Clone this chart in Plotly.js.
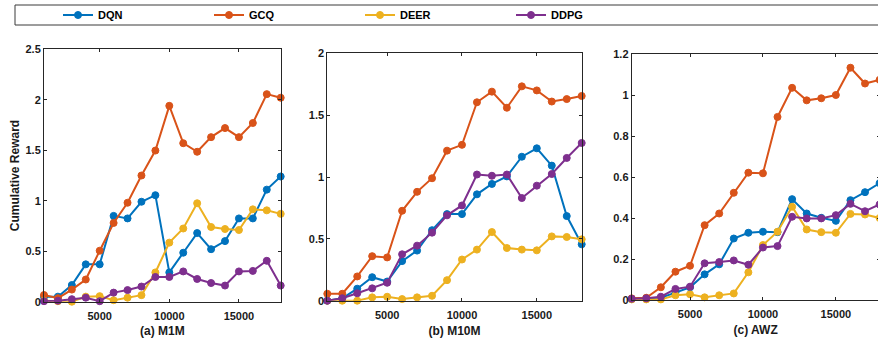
<!DOCTYPE html>
<html>
<head>
<meta charset="utf-8">
<script src="https://cdn.plot.ly/plotly-3.0.1.min.js"></script>
<style>
html, body { margin: 0; padding: 0; overflow: hidden; background: #fff; }
#chart { width: 900px; height: 338px; }
</style>
</head>
<body>
<div id="chart"></div>
<script>
// ---- data ----
var steps = [1000,2000,3000,4000,5000,6000,7000,8000,9000,10000,11000,12000,13000,14000,15000,16000,17000,18000];
var seriesNames = ['DQN', 'GCQ', 'DEER', 'DDPG'];

// (a) M1M
var m1m_DQN  = [0.05,0.05,0.165,0.37,0.37,0.85,0.825,0.99,1.055,0.29,0.485,0.68,0.52,0.60,0.825,0.825,1.11,1.24];
var m1m_GCQ  = [0.066,0.035,0.12,0.22,0.505,0.78,0.98,1.25,1.497,1.94,1.57,1.485,1.63,1.72,1.63,1.77,2.056,2.02];
var m1m_DEER = [0.01,0.005,0.0,0.05,0.055,0.015,0.04,0.065,0.29,0.585,0.725,0.975,0.74,0.72,0.71,0.915,0.905,0.87];
var m1m_DDPG = [0.005,0.01,0.025,0.04,0.005,0.09,0.115,0.15,0.245,0.245,0.30,0.225,0.185,0.16,0.30,0.305,0.405,0.16];

// (b) M10M
var m10m_DQN  = [0.0,0.02,0.097,0.19,0.155,0.32,0.405,0.57,0.70,0.70,0.86,0.944,1.005,1.164,1.232,1.092,0.684,0.456];
var m10m_GCQ  = [0.056,0.056,0.196,0.36,0.35,0.727,0.88,0.99,1.213,1.26,1.604,1.69,1.56,1.733,1.70,1.61,1.63,1.655];
var m10m_DEER = [0.0,0.0,0.0,0.027,0.032,0.013,0.027,0.04,0.166,0.333,0.413,0.555,0.426,0.413,0.407,0.52,0.515,0.496];
var m10m_DDPG = [0.0,0.02,0.06,0.10,0.145,0.375,0.445,0.55,0.69,0.77,1.02,1.01,1.02,0.83,0.93,1.024,1.154,1.275];

// (c) AWZ
var awz_DQN  = [0.006,0.008,0.011,0.036,0.062,0.125,0.174,0.30,0.328,0.333,0.331,0.492,0.422,0.401,0.386,0.487,0.526,0.57];
var awz_GCQ  = [0.008,0.011,0.062,0.138,0.167,0.365,0.422,0.523,0.621,0.618,0.893,1.035,0.974,0.984,1.0,1.133,1.056,1.074];
var awz_DEER = [0.003,0.003,0.003,0.023,0.028,0.013,0.023,0.032,0.135,0.268,0.333,0.455,0.344,0.331,0.328,0.42,0.417,0.40];
var awz_DDPG = [0.006,0.008,0.016,0.054,0.065,0.179,0.185,0.193,0.172,0.256,0.263,0.406,0.398,0.398,0.414,0.469,0.433,0.466];

var panelTitles = ['(a) M1M', '(b) M10M', '(c) AWZ'];
var yTitle = 'Cumulative Reward';
var xTickVals = [5000, 10000, 15000];
var yTicks1 = [0, 0.5, 1, 1.5, 2, 2.5];
var yTicks2 = [0, 0.5, 1, 1.5, 2];
var yTicks3 = [0, 0.2, 0.4, 0.6, 0.8, 1, 1.2];

// ---- styling ----
var colors = ['#0072BD', '#D95319', '#EDB120', '#7E2F8E'];
var FONT = 'Liberation Sans, Arial, Helvetica, sans-serif';
var W = 900, H = 338;

var panels = [
  [m1m_DQN, m1m_GCQ, m1m_DEER, m1m_DDPG],
  [m10m_DQN, m10m_GCQ, m10m_DEER, m10m_DDPG],
  [awz_DQN, awz_GCQ, awz_DEER, awz_DDPG]
];

var traces = [];
panels.forEach(function (series, p) {
  series.forEach(function (vals, s) {
    traces.push({
      type: 'scatter',
      mode: 'lines+markers',
      x: steps,
      y: vals,
      name: seriesNames[s],
      legendgroup: seriesNames[s],
      showlegend: p === 0,
      xaxis: p === 0 ? 'x' : 'x' + (p + 1),
      yaxis: p === 0 ? 'y' : 'y' + (p + 1),
      cliponaxis: false,
      line: { color: colors[s], width: 2 },
      marker: { color: colors[s], size: 7, symbol: 'circle', line: { color: colors[s], width: 1 } }
    });
  });
});

function px2x(a, b) { return [a / W, b / W]; }
function px2y(top, bottom) { return [1 - bottom / H, 1 - top / H]; }

var tickFont = { family: FONT, size: 11, color: '#1a1a1a', weight: 'bold' };
var titleFont = { family: FONT, size: 12, color: '#1a1a1a', weight: 'bold' };

function xaxisDef(dom, anchor, title) {
  return {
    domain: dom, anchor: anchor, range: [1000, 18000],
    tickvals: xTickVals, ticktext: xTickVals.map(String),
    ticks: 'inside', ticklen: 3, tickcolor: '#262626', tickwidth: 1,
    ticklabelstandoff: 4,
    showline: true, linecolor: '#262626', linewidth: 1, mirror: 'ticks',
    showgrid: false, zeroline: false, tickfont: tickFont,
    title: { text: title, font: titleFont, standoff: 6 }
  };
}
function yaxisDef(dom, anchor, range, tv, title) {
  var o = {
    domain: dom, anchor: anchor, range: range,
    tickvals: tv, ticktext: tv.map(String),
    ticks: 'inside', ticklen: 3, tickcolor: '#262626', tickwidth: 1,
    showline: true, linecolor: '#262626', linewidth: 1, mirror: 'ticks',
    showgrid: false, zeroline: false, tickfont: tickFont
  };
  if (title) o.title = { text: title, font: titleFont, standoff: 3 };
  return o;
}

var layout = {
  width: W, height: H,
  margin: { l: 0, r: 0, t: 0, b: 0 },
  paper_bgcolor: '#ffffff', plot_bgcolor: '#ffffff',
  font: { family: FONT, color: '#1a1a1a' },
  showlegend: true,
  legend: {
    orientation: 'h', x: 58 / W, xanchor: 'left', y: 1 - 15 / H, yanchor: 'middle',
    entrywidth: 106, entrywidthmode: 'pixels',
    font: { family: FONT, size: 11, color: '#000000', weight: 'bold' },
    bgcolor: 'rgba(0,0,0,0)', borderwidth: 0, traceorder: 'normal',
    itemclick: false, itemdoubleclick: false
  },
  xaxis: xaxisDef(px2x(44, 280.7), 'y', panelTitles[0]),
  yaxis: yaxisDef(px2y(49.3, 301.7), 'x', [0, 2.5], yTicks1, yTitle),
  xaxis2: xaxisDef(px2x(327.3, 581.7), 'y2', panelTitles[1]),
  yaxis2: yaxisDef(px2y(53.3, 300.7), 'x2', [0, 2], yTicks2),
  xaxis3: xaxisDef(px2x(631.7, 879.6), 'y3', panelTitles[2]),
  yaxis3: yaxisDef(px2y(54, 300), 'x3', [0, 1.2], yTicks3),
  shapes: [{
    type: 'rect', xref: 'paper', yref: 'paper',
    x0: 15 / W, x1: 898 / W, y0: 1 - 25 / H, y1: 1 - 5 / H,
    line: { color: '#3a3a3a', width: 1 }, fillcolor: 'rgba(0,0,0,0)'
  }]
};

Plotly.newPlot('chart', traces, layout, { displayModeBar: false, staticPlot: true });
</script>
</body>
</html>
